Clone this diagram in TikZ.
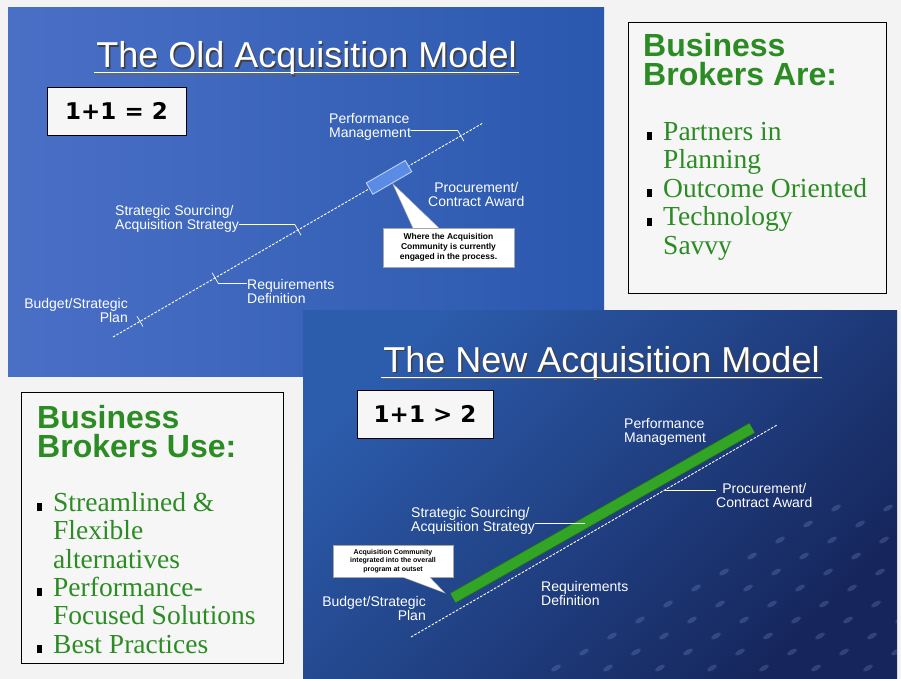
\documentclass[tikz,border=0pt]{standalone}
\usepackage{fontspec}
\setmainfont{Liberation Sans}
\newfontfamily\brokerserif{Liberation Serif}
\newfontfamily\sumfont{DejaVu Sans}

\definecolor{canvas}{RGB}{243,243,243}
\definecolor{panel}{RGB}{246,246,246}
\definecolor{oldtop}{RGB}{74,112,198}
\definecolor{oldbot}{RGB}{42,88,174}
\definecolor{newtop}{RGB}{44,92,172}
\definecolor{newbot}{RGB}{22,38,92}
\definecolor{brokergreen}{RGB}{44,140,36}
\definecolor{bargreen}{RGB}{50,165,38}
\definecolor{hlblue}{RGB}{90,140,230}

% square bullet hung to the left of an item
\newcommand\bul{\llap{\color{black}\rule{5pt}{8pt}\hspace{11pt}}}

\begin{document}
\begin{tikzpicture}[
  x=1pt, y=-1pt,
  title/.style      = {inner sep=0pt, anchor=base, text=white,
                       font=\fontsize{36}{36}\selectfont},
  titleshade/.style = {title, text=black!75},
  underline/.style  = {white, line width=1pt},
  sumbox/.style     = {draw, line width=0.8pt, fill=panel, inner sep=0pt,
                       minimum height=48pt, font=\sumfont\bfseries\fontsize{23}{23}\selectfont},
  timeline/.style   = {white, line width=0.9pt, dash pattern=on 2.5pt off 1.5pt},
  tickmark/.style   = {sloped, solid, draw=white, line width=0.7pt, inner sep=0pt,
                       minimum width=0pt, minimum height=12pt},
  hilite/.style     = {sloped, solid, draw=white!60!hlblue, fill=hlblue, inner sep=0pt,
                       minimum width=45pt, minimum height=13pt},
  lead/.style       = {white, line width=0.6pt},
  lbl/.style        = {inner sep=0pt, text=white, font=\fontsize{14}{14.5}\selectfont},
  callout/.style    = {draw=gray!70, fill=white, inner sep=0pt, align=center},
  pointer/.style    = {draw=gray!70, line width=0.4pt},
  bar/.style        = {draw=bargreen!70!black, line width=0.8pt, double=bargreen,
                       double distance=10pt},
  panelbox/.style   = {draw, line width=0.9pt, fill=panel, inner sep=0pt},
  head/.style       = {inner sep=0pt, anchor=north west, align=left, text=brokergreen,
                       font=\bfseries\fontsize{32}{29}\selectfont},
  items/.style      = {inner sep=0pt, anchor=north west, align=left, text=brokergreen,
                       font=\brokerserif\fontsize{27.5}{28.4}\selectfont},
  dot/.style        = {fill=hlblue!60!white, opacity=0.2},
]
  \useasboundingbox (0,0) rectangle (901,679);
  \fill[canvas] (0,0) rectangle (901,679);

  % ---- old model slide
  \shade[left color=oldtop, right color=oldbot] (8,8) rectangle (604,376);
  \node[titleshade] (oldshade) at (308,69.5) {The Old Acquisition Model};
  \node[title] (oldtitle) at (306.5,68) {The Old Acquisition Model};
  \draw[underline, black!60] ([xshift=-1pt,yshift=-6.5pt]oldtitle.base west)
    -- ([xshift=3pt,yshift=-6.5pt]oldtitle.base east);
  \draw[underline] ([xshift=-2pt,yshift=-5pt]oldtitle.base west)
    -- ([xshift=2pt,yshift=-5pt]oldtitle.base east);
  \node[sumbox, minimum width=139pt] (oldsum) at (116.5,111) {1+1 = 2};

  \coordinate (ob) at (113,337);
  \coordinate (oe) at (483,123);
  \draw[timeline] (ob) -- (oe)
    node[tickmark, pos=.073] (ot1) {}
    node[tickmark, pos=.276] (ot2) {}
    node[tickmark, pos=.5]   (ot3) {}
    node[hilite,   pos=.746] (ohl) {}
    node[tickmark, pos=.94]  (ot4) {};

  \node[lbl, anchor=north east, align=right]  (obp) at (128,298) {Budget/Strategic\\Plan};
  \node[lbl, anchor=north west, align=left]   (oss) at (115,205) {Strategic Sourcing/\\Acquisition Strategy};
  \node[lbl, anchor=north west, align=left]   (ord) at (247,279) {Requirements\\Definition};
  \node[lbl, anchor=north west, align=left]   (opm) at (329,113) {Performance\\Management};
  \node[lbl, anchor=north west, align=center] (opc) at (428,182) {Procurement/\\Contract Award};

  \draw[lead] (oss.east |- ot3.north) -- (ot3.north);
  \draw[lead] (ot2.south) -- (ord.west |- ot2.south);
  \draw[lead] (opm.east |- ot4.north) -- (ot4.north);

  \node[callout, minimum width=131pt, minimum height=39pt,
        font=\bfseries\fontsize{8.5}{10}\selectfont] (ocall) at (448.5,247.5)
    {Where the Acquisition\\Community is currently\\engaged in the process.};
  \fill[white] (ohl.south) -- ([xshift=30pt]ocall.north west) -- ([xshift=56pt]ocall.north west) -- cycle;
  \draw[pointer] ([xshift=30pt]ocall.north west) -- (ohl.south) -- ([xshift=56pt]ocall.north west);

  % ---- new model slide
  \shade[top color=newtop, bottom color=newbot, shading angle=45] (303,310) rectangle (897,679);
  \begin{scope}
    \clip (303,310) rectangle (897,679);
    \foreach \r in {0,...,8}
      \foreach \k in {0,...,12}
        \fill[dot] ({500+\r*52+\k*28},{700-\k*16}) ellipse [x radius=5.5, y radius=2.4, rotate=30];
  \end{scope}

  \node[titleshade] (newshade) at (603,373.5) {The New Acquisition Model};
  \node[title] (newtitle) at (601.5,372) {The New Acquisition Model};
  \draw[underline, black!60] ([xshift=-1pt,yshift=-6.5pt]newtitle.base west)
    -- ([xshift=3pt,yshift=-6.5pt]newtitle.base east);
  \draw[underline] ([xshift=-2pt,yshift=-5pt]newtitle.base west)
    -- ([xshift=2pt,yshift=-5pt]newtitle.base east);
  \node[sumbox, minimum width=136pt] (newsum) at (425,414) {1+1 > 2};

  \coordinate (nb) at (411,637);
  \coordinate (ne) at (777,425);
  \draw[timeline] (nb) -- (ne) coordinate[pos=.693] (nt);

  \coordinate (ngb) at (453,598);
  \coordinate (nge) at (752,428);
  \draw[bar] (ngb) -- (nge) coordinate[pos=.44] (ngs);

  \node[lbl, anchor=north east, align=right]  (nbp) at (426,596) {Budget/Strategic\\Plan};
  \node[lbl, anchor=north west, align=left]   (nss) at (411,507) {Strategic Sourcing/\\Acquisition Strategy};
  \node[lbl, anchor=north west, align=left]   (nrd) at (541,581) {Requirements\\Definition};
  \node[lbl, anchor=north west, align=left]   (npm) at (624,418) {Performance\\Management};
  \node[lbl, anchor=north west, align=center] (npc) at (716,483) {Procurement/\\Contract Award};

  \draw[lead] (nss.east |- ngs) -- (ngs);
  \draw[lead] (nt) -- (nt -| npc.west);

  \node[callout, minimum width=120pt, minimum height=32pt,
        font=\bfseries\fontsize{7}{8.5}\selectfont] (ncall) at (393,561)
    {Acquisition Community\\integrated into the overall\\program at outset};
  \fill[white] ([xshift=-8pt,yshift=5pt]ngb) -- ([xshift=70pt]ncall.south west) -- ([xshift=97pt]ncall.south west) -- cycle;
  \draw[pointer] ([xshift=70pt]ncall.south west) -- ([xshift=-8pt,yshift=5pt]ngb) -- ([xshift=97pt]ncall.south west);

  % ---- broker panels
  \node[panelbox, minimum width=258pt, minimum height=271pt] (arebox) at (757,157.5) {};
  \node[head] (arehead) at (643,33) {Business\\Brokers Are:};
  \node[items] (arelist) at (663,122)
    {\bul Partners in\\Planning\\\bul Outcome Oriented\\\bul Technology\\Savvy};

  \node[panelbox, minimum width=262pt, minimum height=271pt] (usebox) at (152,527.5) {};
  \node[head] (usehead) at (37,405) {Business\\Brokers Use:};
  \node[items] (uselist) at (53,492)
    {\bul Streamlined \&\\Flexible\\alternatives\\\bul Performance-\\Focused Solutions\\\bul Best Practices};
\end{tikzpicture}
\end{document}
